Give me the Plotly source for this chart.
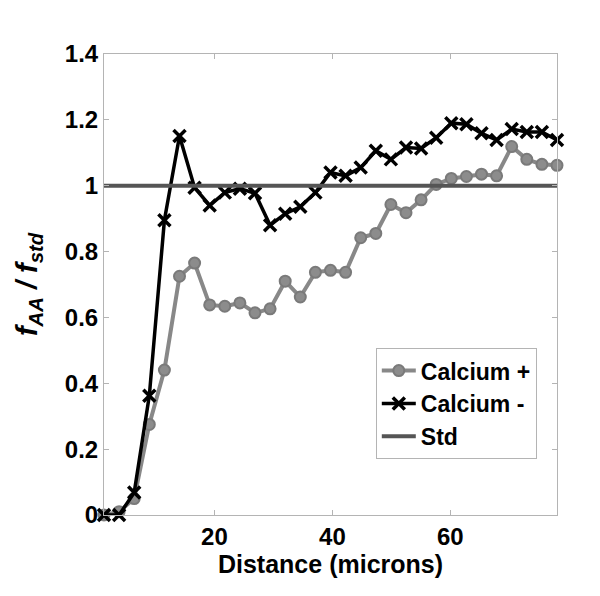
import plotly.graph_objects as go

distance = [1.28, 3.84, 6.40, 8.96, 11.52, 14.08, 16.64, 19.20, 21.76, 24.32,
            26.88, 29.44, 32.00, 34.56, 37.12, 39.68, 42.24, 44.80, 47.36, 49.92,
            52.48, 55.04, 57.60, 60.16, 62.72, 65.28, 67.84, 70.40, 72.96, 75.52, 78.08]

calcium_plus = [0.00, 0.01, 0.05, 0.275, 0.44, 0.725, 0.765, 0.638, 0.634, 0.644,
                0.614, 0.626, 0.710, 0.662, 0.737, 0.743, 0.737, 0.842, 0.855, 0.943,
                0.918, 0.957, 1.004, 1.022, 1.028, 1.035, 1.030, 1.119, 1.080, 1.065, 1.062]

calcium_minus = [0.00, 0.00, 0.068, 0.362, 0.895, 1.151, 0.994, 0.940, 0.979, 0.991,
                 0.977, 0.880, 0.915, 0.936, 0.979, 1.040, 1.030, 1.055, 1.106, 1.080,
                 1.116, 1.113, 1.146, 1.190, 1.187, 1.159, 1.139, 1.172, 1.163, 1.163, 1.139]

std = [1.0] * len(distance)

x_ticks = [20, 40, 60]
y_ticks = [0, 0.2, 0.4, 0.6, 0.8, 1, 1.2, 1.4]
y_tick_text = ["0", "0.2", "0.4", "0.6", "0.8", "1", "1.2", "1.4"]

font = "Liberation Sans, Arial, sans-serif"

fig = go.Figure()
fig.add_trace(go.Scatter(
    x=distance, y=calcium_plus, name="Calcium +", mode="lines+markers",
    line=dict(color="#888888", width=4),
    marker=dict(symbol="circle", size=11, color="#8c8c8c",
                line=dict(color="#7a7a7a", width=2)),
    cliponaxis=False))
fig.add_trace(go.Scatter(
    x=distance, y=calcium_minus, name="Calcium -", mode="lines+markers",
    line=dict(color="#000000", width=3.5),
    marker=dict(symbol="x-thin", size=12, color="#000000",
                line=dict(color="#000000", width=3.5)),
    cliponaxis=False))
fig.add_trace(go.Scatter(
    x=distance, y=std, name="Std", mode="lines",
    line=dict(color="#555555", width=4)))

axis_common = dict(
    showline=True, linecolor="#b4b4b4", linewidth=1, mirror="ticks",
    ticks="inside", ticklen=5, tickcolor="#b4b4b4",
    showgrid=False, zeroline=False,
    tickfont=dict(family=font, size=24, color="#000000", weight="bold"),
)

fig.update_layout(
    width=600, height=596,
    margin=dict(l=96, r=51, t=46, b=89),
    paper_bgcolor="white", plot_bgcolor="white",
    xaxis=dict(range=[1.28, 78.08], tickvals=x_ticks,
               title=dict(text="Distance (microns)", standoff=0,
                          font=dict(family=font, size=25, color="#000000", weight="bold")),
               **axis_common),
    yaxis=dict(range=[0, 1.4], tickvals=y_ticks, ticktext=y_tick_text,
               title=dict(text="<i>f<sub>AA</sub> / f<sub>std</sub></i>", standoff=18,
                          font=dict(family=font, size=29, color="#000000", weight="bold")),
               **axis_common),
    legend=dict(x=0.600, y=0.362, xanchor="left", yanchor="top",
                bgcolor="white", bordercolor="#b4b4b4", borderwidth=1,
                font=dict(family=font, size=23, color="#000000", weight="bold"),
                itemwidth=34, tracegroupgap=0),
    showlegend=True,
)

fig.write_html("out.html")
